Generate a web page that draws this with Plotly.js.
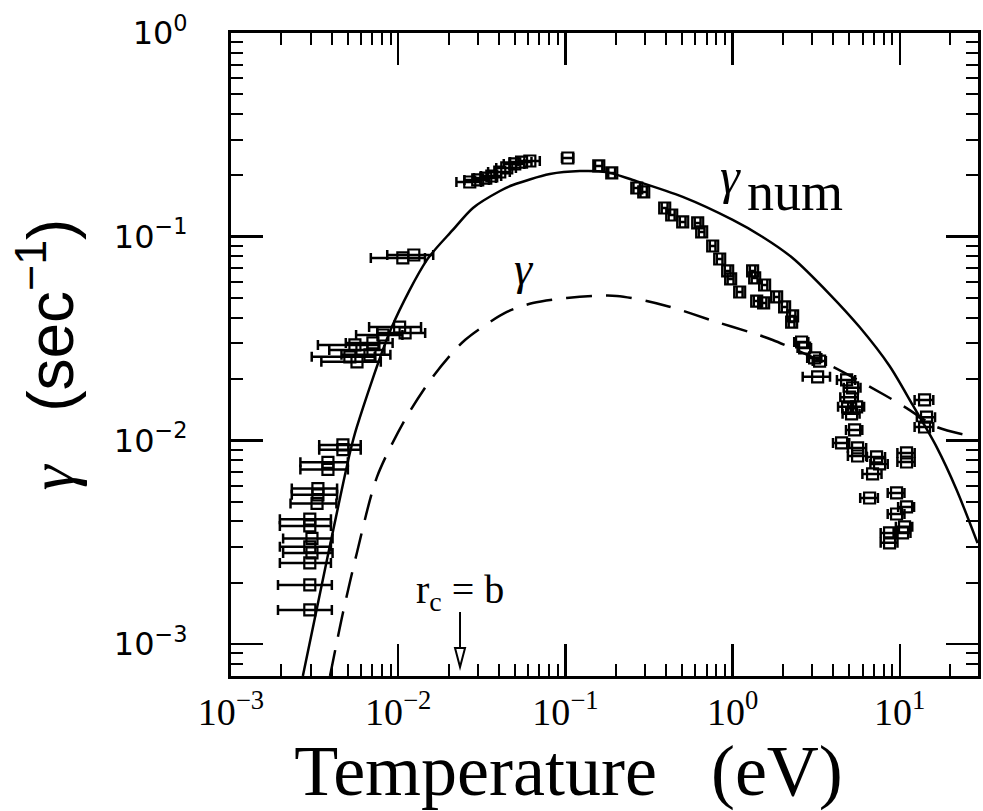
<!DOCTYPE html>
<html>
<head>
<meta charset="utf-8">
<script src="https://cdn.plot.ly/plotly-3.0.1.min.js"></script>
<style>html,body{margin:0;padding:0;background:#fff;}#chart{width:983px;height:811px;}</style>
</head>
<body>
<div id="chart"></div>
<script>
// Measured points: temperature (eV), damping rate (1/sec), temperature error (eV)
const tempData = [0.00296,0.00296,0.00296,0.00305,0.00296,0.00305,0.00296,0.00296,0.00327,0.00331,0.00331,0.0038,0.0038,0.00467,0.00467,
  0.00551,0.00607,0.00514,0.00567,0.00678,0.00706,0.0081,0.0102,0.0110,0.01066,0.0124,
  0.0268,0.0299,0.0334,0.0363,0.0405,0.0446,0.0498,0.0547,0.0613,0.1034,0.1584,0.1894,0.2673,0.2942,
  0.3927,0.4325,0.5032,0.6186,0.6535,0.7605,0.8375,0.9348,0.974,1.103,1.318,1.356,1.555,1.394,1.534,
  1.835,2.048,2.287,2.256,2.588,2.698,3.095,3.316,3.227,4.81,5.224,5.01,4.876,5.52,5.15,5.37,4.488,
  5.596,5.596,7.265,7.573,6.878,6.60,9.57,10.98,9.57,8.69,10.39,8.69,10.68,10.98,10.98,14.07,14.46,14.07];
const gammaData = [0.00147,0.00195,0.0025,0.0028,0.0030,0.0033,0.0038,0.0041,0.0049,0.0054,0.0058,0.0072,0.0078,0.0090,0.0095,
  0.0294,0.0278,0.0257,0.0243,0.0263,0.0301,0.0329,0.0360,0.0337,0.0786,0.0813,
  0.1855,0.190,0.194,0.1986,0.2078,0.2175,0.2275,0.2325,0.2353,0.2434,0.2224,0.2055,0.1734,0.1658,
  0.1383,0.1278,0.1181,0.1168,0.1055,0.0900,0.0777,0.0679,0.0620,0.0535,0.0679,0.0627,0.0579,0.0483,0.0473,
  0.0506,0.0452,0.0408,0.0381,0.0304,0.0284,0.0254,0.0245,0.0205,0.0198,0.0181,0.0163,0.0146,0.0146,0.0135,0.01125,0.00971,
  0.00918,0.00838,0.00829,0.00766,0.00684,0.00521,0.00552,0.00471,0.00435,0.00351,0.00351,0.00314,0.00376,0.00867,0.00783,0.0158,0.0130,0.01163];
const tempErr = [0.00105,0.00105,0.001,0.001,0.001,0.001,0.001,0.001,0.001,0.001,0.001,0.0012,0.0012,0.0013,0.0013,
  0.0022,0.0022,0.0021,0.0022,0.0022,0.0022,0.0025,0.0035,0.0035,0.0038,0.0038,
  0.0045,0.005,0.005,0.005,0.006,0.006,0.007,0.008,0.009,0.008,0.008,0.009,0.012,0.013,
  0.016,0.018,0.02,0.025,0.026,0.03,0.033,0.037,0.04,0.045,0.05,0.055,0.06,0.055,0.06,
  0.07,0.08,0.09,0.09,0.25,0.25,0.3,0.3,0.6,0.6,0.6,0.6,0.6,0.6,0.6,0.6,0.5,
  0.7,0.7,0.9,0.9,0.9,0.8,1.1,1.2,1.1,1.0,1.2,1.0,1.2,1.3,1.3,1.8,1.8,1.8];

// Numerical rate curve (solid)
const numT = [0.00269,0.00375,0.00514,0.00566,0.00916,0.01486,0.02123,0.0280,0.0406,0.0485,0.0807,0.122,0.1766,0.253,0.5035,1.002,1.514,2.286,3.80,5.75,8.69,11.94,16.6,21.9,29.2];
const numGamma = [0.000697,0.00259,0.00867,0.01164,0.0360,0.0769,0.1079,0.1384,0.1676,0.1794,0.203,0.210,0.2075,0.1897,0.1567,0.1208,0.0997,0.0786,0.0523,0.0360,0.02318,0.01492,0.00929,0.00571,0.00313];

// Theoretical rate curve (dashed)
const thT = [0.00391,0.00467,0.00566,0.00746,0.01096,0.0161,0.0251,0.0447,0.0638,0.1019,0.2028,0.4036,0.8035,1.265,1.738,3.80,8.11,10.99,16.6,28.0];
const thGamma = [0.000697,0.00142,0.0028,0.0066,0.0126,0.0205,0.0311,0.0427,0.0472,0.0500,0.0512,0.0457,0.0381,0.0340,0.0311,0.0234,0.0167,0.0144,0.01164,0.0104];

// Axis ticks
const xTickVals = [0.001,0.01,0.1,1,10];
const xTickText = ['10<sup>−3</sup>','10<sup>−2</sup>','10<sup>−1</sup>','10<sup>0</sup>','10<sup>1</sup>'];
const yTickVals = [0.001,0.01,0.1,1];
const yTickText = ['10<sup>−3</sup>','10<sup>−2</sup>','10<sup>−1</sup>','10<sup>0</sup>'];
const minorDigits = [2,3,4,5,6,7,8,9];
const minorX = [];
[0.001,0.01,0.1,1,10].forEach(d => minorDigits.forEach(m => minorX.push(d*m)));
const minorY = [];
[0.0001,0.001,0.01,0.1].forEach(d => minorDigits.forEach(m => minorY.push(d*m)));

const traces = [
  {
    x: tempData, y: gammaData, type: 'scatter', mode: 'markers',
    marker: {symbol: 'square-open', size: 11, color: '#000', line: {width: 2.2, color: '#000'}},
    error_x: {type: 'data', array: tempErr, visible: true, color: '#000', thickness: 2.5, width: 5},
    showlegend: false
  },
  {
    x: numT, y: numGamma, type: 'scatter', mode: 'lines',
    line: {color: '#000', width: 2.5, shape: 'spline', smoothing: 0.8},
    showlegend: false
  },
  {
    x: thT, y: thGamma, type: 'scatter', mode: 'lines',
    line: {color: '#000', width: 2.5, shape: 'spline', smoothing: 0.8, dash: '26px,14px'},
    showlegend: false
  }
];

function axisBase(minorVals) {
  return {
    type: 'log', showgrid: false, zeroline: false,
    showline: true, linewidth: 3, linecolor: '#000', mirror: 'allticks',
    ticks: 'inside', ticklen: 32, tickwidth: 2.5, tickcolor: '#000',
    tickmode: 'array',
    minor: {tickmode: 'array', tickvals: minorVals, ticks: 'inside', ticklen: 12, tickwidth: 2, tickcolor: '#000', showgrid: false}
  };
}

const layout = {
  width: 983, height: 811,
  margin: {l: 231, r: 5, t: 33, b: 135},
  paper_bgcolor: '#fff', plot_bgcolor: '#fff',
  xaxis: Object.assign(axisBase(minorX), {
    range: [-3, 1.468],
    tickvals: xTickVals, ticktext: xTickText,
    tickfont: {family: 'Liberation Serif', size: 38, color: '#000'},
    ticklabelstandoff: 0,
    title: {text: 'Temperature&nbsp;&nbsp;&nbsp;(eV)&nbsp;&nbsp;&nbsp;&nbsp;', font: {family: 'Liberation Serif', size: 72, color: '#000'}, standoff: 8}
  }),
  yaxis: Object.assign(axisBase(minorY), {
    range: [-3.157, 0],
    tickvals: yTickVals, ticktext: yTickText,
    tickfont: {family: 'DejaVu Sans', size: 32, color: '#000'},
    ticklabelstandoff: 34,
    title: {text: '<span style="font-family:\'Liberation Serif\';font-style:italic">γ</span>&nbsp;&nbsp;&nbsp;(sec<sup>−1</sup>)', font: {family: 'Liberation Sans', size: 64, color: '#000'}, standoff: 20}
  }),
  annotations: [
    {xref: 'paper', yref: 'paper', x: 0.669, y: 0.777, xanchor: 'center', yanchor: 'middle', text: 'γ', showarrow: false,
     font: {family: 'Liberation Serif', size: 50, color: '#000', style: 'italic'}},
    {xref: 'paper', yref: 'paper', x: 0.755, y: 0.752, xanchor: 'center', yanchor: 'middle', text: 'num', showarrow: false,
     font: {family: 'Liberation Serif', size: 54, color: '#000'}},
    {xref: 'paper', yref: 'paper', x: 0.3922, y: 0.6345, xanchor: 'center', yanchor: 'middle', text: 'γ', showarrow: false,
     font: {family: 'Liberation Serif', size: 46, color: '#000', style: 'italic'}},
    {xref: 'paper', yref: 'paper', x: 0.3066, y: 0.1306, xanchor: 'center', yanchor: 'middle', text: 'r<sub>c</sub> = b', showarrow: false,
     font: {family: 'Liberation Serif', size: 40, color: '#000'}}
  ],
  shapes: [
    {type: 'line', xref: 'paper', yref: 'paper', x0: 0.3066, x1: 0.3066, y0: 0.0995, y1: 0.0435,
     line: {color: '#000', width: 2}},
    {type: 'path', xref: 'paper', yref: 'paper', path: 'M 0.2999 0.0435 L 0.3133 0.0435 L 0.3066 0.0140 Z',
     line: {color: '#000', width: 2}, fillcolor: 'rgba(0,0,0,0)'}
  ]
};

Plotly.newPlot('chart', traces, layout, {displayModeBar: false, staticPlot: true});
</script>
</body>
</html>
